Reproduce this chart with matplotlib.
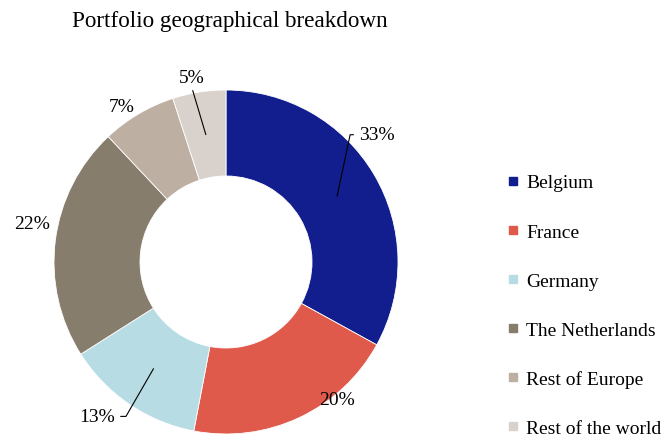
import numpy as np
import matplotlib.pyplot as plt
from matplotlib.lines import Line2D

plt.rcParams['font.family'] = ['Liberation Serif', 'DejaVu Serif']

# data
countries = ['Belgium', 'France', 'Germany', 'The Netherlands', 'Rest of Europe', 'Rest of the world']
shares = [33, 20, 13, 22, 7, 5]
colors = ['#121E8E', '#E05A4C', '#B8DCE4', '#877D6D', '#BDB0A3', '#D9D2CC']

# label placement (radius, angle offset in degrees) and leader style per slice
lab_r = [1.155, 1.02, 1.16, 1.15, 1.10, 1.10]
lab_da = [10, 14, -6, -4.5, 3, 1.5]
leader = ['elbow_left', None, 'elbow_right', None, None, 'straight']

W, H = 667, 439
fig = plt.figure(figsize=(W / 100, H / 100), dpi=100)
cx, cy, R = 226, 176, 172
lim = 1.3
ax = fig.add_axes([(cx - lim * R) / W, (cy - lim * R) / H, 2 * lim * R / W, 2 * lim * R / H])

wedges, _ = ax.pie(shares, colors=colors, startangle=90, counterclock=False, radius=1,
                   wedgeprops=dict(width=0.5, edgecolor='white', linewidth=0.6))
# pie resets the limits, so set them afterwards
ax.set_xlim(-lim, lim)
ax.set_ylim(-lim, lim)
ax.set_aspect('equal')
ax.axis('off')

total = sum(shares)
cum = np.cumsum([0] + shares)
for i, v in enumerate(shares):
    mid = 90 - 360 * (cum[i] + v / 2) / total
    a = np.deg2rad(mid)
    ta = np.deg2rad(mid + lab_da[i])
    tx, ty = lab_r[i] * np.cos(ta), lab_r[i] * np.sin(ta)
    px, py = 0.75 * np.cos(a), 0.75 * np.sin(a)
    txt = f'{v}%'
    kw = dict(ha='center', va='center_baseline', fontsize=14)
    if leader[i] == 'elbow_left':
        ax.annotate(txt, xy=(px, py), xytext=(tx, ty), **kw,
                    arrowprops=dict(arrowstyle='-', color='black', lw=0.8, relpos=(0, 0.5),
                                    shrinkA=2, shrinkB=0,
                                    connectionstyle='angle,angleA=0,angleB=78,rad=0'))
    elif leader[i] == 'elbow_right':
        ax.annotate(txt, xy=(px, py), xytext=(tx, ty), **kw,
                    arrowprops=dict(arrowstyle='-', color='black', lw=0.8, relpos=(1, 0.5),
                                    shrinkA=2, shrinkB=0,
                                    connectionstyle='angle,angleA=0,angleB=60,rad=0'))
    elif leader[i] == 'straight':
        ax.annotate(txt, xy=(px, py), xytext=(tx, ty), **kw,
                    arrowprops=dict(arrowstyle='-', color='black', lw=0.8, relpos=(0.5, 0),
                                    shrinkA=1, shrinkB=0))
    else:
        ax.text(tx, ty, txt, **kw)

fig.text(230 / W, 1 - 22 / H, 'Portfolio geographical breakdown', ha='center', va='center', fontsize=16.7)

handles = [Line2D([], [], marker='s', linestyle='none', markersize=6, color=c) for c in colors]
fig.legend(handles, countries, loc='center left', bbox_to_anchor=(505 / W, 1 - 306.5 / H),
           frameon=False, fontsize=14, labelspacing=1.62, handlelength=0.8, handletextpad=0.3,
           borderpad=0, borderaxespad=0)

fig.savefig('out.png', dpi=100)
